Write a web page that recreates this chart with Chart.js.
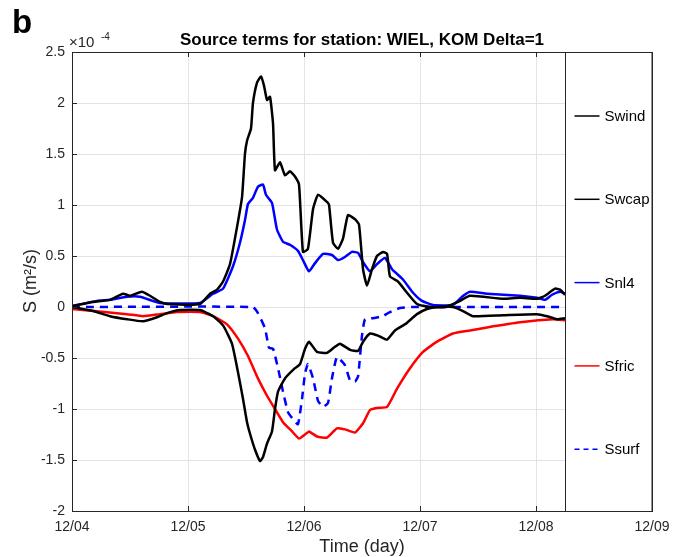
<!DOCTYPE html>
<html>
<head>
<meta charset="utf-8">
<script src="https://cdn.jsdelivr.net/npm/chart.js@4"></script>
<style>
  body { margin: 0; background: #fff; }
  canvas { display: block; }
</style>
</head>
<body>
<canvas id="c" width="682" height="557"></canvas>
<script>
// tick labels for the time axis (days since 12/04)
const dayLabels = ['12/04', '12/05', '12/06', '12/07', '12/08', '12/09'];
const legendNames = ['Swind', 'Swcap', 'Snl4', 'Sfric', 'Ssurf'];

// values in units of 1e-4 m^2/s, time in days
const swindT = [0, 0.181, 0.328, 0.44, 0.5, 0.603, 0.672, 0.759, 0.819, 1.103, 1.19, 1.25, 1.302, 1.362, 1.422, 1.466, 1.491, 1.509, 1.543, 1.56, 1.595, 1.629, 1.655, 1.681, 1.707, 1.733, 1.75, 1.793, 1.836, 1.879, 1.922, 1.957, 1.991, 2.034, 2.078, 2.121, 2.198, 2.216, 2.25, 2.293, 2.336, 2.379, 2.44, 2.474, 2.509, 2.543, 2.586, 2.629, 2.681, 2.716, 2.741, 2.81, 2.888, 2.974, 3.086, 3.216, 3.328, 3.431, 3.716, 3.862, 4.009, 4.078, 4.164, 4.207, 4.25];
const swindV = [0.01, 0.05, 0.07, 0.13, 0.11, 0.15, 0.11, 0.05, 0.03, 0.03, 0.13, 0.17, 0.25, 0.42, 0.78, 1.08, 1.5, 1.63, 1.75, 2.0, 2.2, 2.26, 2.17, 2.03, 2.06, 1.8, 1.34, 1.42, 1.29, 1.33, 1.28, 1.2, 0.54, 0.57, 0.96, 1.1, 1.03, 1.0, 0.63, 0.57, 0.67, 0.9, 0.86, 0.81, 0.37, 0.21, 0.37, 0.5, 0.54, 0.52, 0.3, 0.25, 0.14, 0.03, 0.0, 0.0, 0.05, 0.11, 0.08, 0.09, 0.08, 0.11, 0.18, 0.17, 0.12];

const swcapT = [0, 0.181, 0.328, 0.474, 0.612, 0.733, 0.819, 0.931, 1.103, 1.216, 1.302, 1.379, 1.431, 1.474, 1.509, 1.534, 1.578, 1.621, 1.647, 1.681, 1.724, 1.75, 1.776, 1.836, 1.922, 1.966, 2.009, 2.043, 2.112, 2.198, 2.267, 2.31, 2.397, 2.466, 2.509, 2.569, 2.638, 2.716, 2.784, 2.871, 2.974, 3.06, 3.147, 3.284, 3.371, 3.457, 3.716, 4.009, 4.095, 4.181, 4.25];
const swcapV = [0, -0.04, -0.09, -0.12, -0.14, -0.1, -0.06, -0.03, -0.03, -0.09, -0.18, -0.36, -0.64, -0.9, -1.13, -1.24, -1.4, -1.51, -1.47, -1.34, -1.22, -1.0, -0.83, -0.7, -0.6, -0.56, -0.41, -0.34, -0.44, -0.45, -0.39, -0.36, -0.42, -0.43, -0.34, -0.26, -0.28, -0.32, -0.23, -0.17, -0.07, -0.02, 0, 0, -0.04, -0.09, -0.08, -0.07, -0.09, -0.12, -0.11];

const snl4T = [0, 0.216, 0.328, 0.474, 0.586, 0.759, 1.103, 1.216, 1.302, 1.388, 1.448, 1.491, 1.517, 1.56, 1.603, 1.647, 1.672, 1.724, 1.767, 1.819, 1.879, 1.948, 1.991, 2.043, 2.095, 2.164, 2.241, 2.293, 2.353, 2.414, 2.466, 2.509, 2.569, 2.629, 2.698, 2.759, 2.853, 2.94, 3.017, 3.112, 3.284, 3.362, 3.431, 3.578, 3.862, 4.009, 4.078, 4.138, 4.207, 4.25];
const snl4V = [0.01, 0.06, 0.07, 0.1, 0.1, 0.04, 0.04, 0.13, 0.18, 0.4, 0.63, 0.85, 1.01, 1.07, 1.18, 1.2, 1.1, 1.02, 0.76, 0.64, 0.61, 0.55, 0.46, 0.35, 0.43, 0.52, 0.51, 0.46, 0.49, 0.54, 0.53, 0.44, 0.35, 0.42, 0.48, 0.37, 0.27, 0.14, 0.06, 0.02, 0.02, 0.1, 0.15, 0.13, 0.11, 0.09, 0.07, 0.12, 0.15, 0.13];

const sfricT = [0, 0.474, 0.612, 0.759, 0.905, 1.103, 1.216, 1.336, 1.431, 1.517, 1.603, 1.681, 1.75, 1.819, 1.897, 1.957, 2.009, 2.043, 2.112, 2.198, 2.284, 2.353, 2.44, 2.509, 2.569, 2.629, 2.716, 2.802, 2.914, 3.026, 3.147, 3.284, 3.431, 3.578, 3.862, 4.147, 4.25];
const sfricV = [-0.02, -0.07, -0.09, -0.07, -0.05, -0.05, -0.09, -0.17, -0.31, -0.48, -0.7, -0.87, -1.0, -1.13, -1.22, -1.29, -1.25, -1.22, -1.27, -1.28, -1.19, -1.2, -1.23, -1.14, -1.01, -0.99, -0.98, -0.8, -0.6, -0.44, -0.34, -0.26, -0.23, -0.2, -0.15, -0.12, -0.13];

const ssurfT = [0, 1.56, 1.603, 1.664, 1.698, 1.733, 1.776, 1.819, 1.862, 1.905, 1.948, 1.983, 2.009, 2.034, 2.078, 2.121, 2.164, 2.207, 2.241, 2.284, 2.353, 2.397, 2.44, 2.466, 2.5, 2.526, 2.595, 2.681, 2.724, 2.828, 2.94, 4.25];
const ssurfV = [0, 0, -0.06, -0.21, -0.4, -0.41, -0.6, -0.83, -1.03, -1.1, -1.15, -0.9, -0.65, -0.56, -0.7, -0.92, -0.98, -0.94, -0.7, -0.49, -0.57, -0.72, -0.73, -0.68, -0.28, -0.12, -0.11, -0.09, -0.06, -0.01, 0, 0];

const FONT = "'Liberation Sans', Arial, Helvetica, sans-serif";
const AXC = '#262626';

function pts(t, v) {
  return t.map((d, i) => ({ x: d, y: v[i] }));
}

function line(label, t, v, color, dash) {
  return {
    label: label,
    data: pts(t, v),
    borderColor: color,
    backgroundColor: color,
    borderWidth: 2.5,
    borderDash: dash || [],
    pointRadius: 0,
    tension: 0.15,
    fill: false
  };
}

// MATLAB style frame, inward ticks, text, boxed legend
const decor = {
  id: 'decor',
  afterDatasetsDraw(chart) {
    const ctx = chart.ctx, a = chart.chartArea;
    const xs = chart.scales.x, ys = chart.scales.y;
    ctx.save();
    // legend box sits over the right end of the axes
    const lx = Math.round(xs.getPixelForValue(4.25)) + 0.5;
    ctx.fillStyle = '#fff';
    ctx.fillRect(lx, a.top, a.right - lx, a.bottom - a.top);
    ctx.strokeStyle = AXC;
    ctx.lineWidth = 1;
    ctx.strokeRect(lx, a.top + 0.5, a.right - lx, a.bottom - a.top);
    chart.data.datasets.forEach((ds, i) => {
      const y = a.top + 64 + i * 83.3;
      ctx.beginPath();
      ctx.strokeStyle = ds.borderColor;
      ctx.lineWidth = 1.5;
      ctx.setLineDash(ds.borderDash.length ? [5, 4] : []);
      ctx.moveTo(lx + 9, y);
      ctx.lineTo(lx + 34, y);
      ctx.stroke();
      ctx.setLineDash([]);
      ctx.fillStyle = '#000';
      ctx.font = '15px ' + FONT;
      ctx.textBaseline = 'middle';
      ctx.textAlign = 'left';
      ctx.fillText(legendNames[i], lx + 39, y + 1);
    });
    // frame
    ctx.strokeStyle = AXC;
    ctx.lineWidth = 1;
    ctx.strokeRect(a.left + 0.5, a.top + 0.5, a.right - a.left, a.bottom - a.top);
    // inward ticks
    ctx.beginPath();
    xs.ticks.forEach(t => {
      const x = Math.round(xs.getPixelForValue(t.value)) + 0.5;
      if (x > lx) return;
      ctx.moveTo(x, a.bottom); ctx.lineTo(x, a.bottom - 5);
      ctx.moveTo(x, a.top); ctx.lineTo(x, a.top + 5);
    });
    ys.ticks.forEach(t => {
      const y = Math.round(ys.getPixelForValue(t.value)) + 0.5;
      ctx.moveTo(a.left, y); ctx.lineTo(a.left + 5, y);
    });
    ctx.stroke();
    // texts
    ctx.fillStyle = '#000';
    ctx.textBaseline = 'alphabetic';
    ctx.font = 'bold 33px ' + FONT;
    ctx.textAlign = 'left';
    ctx.fillText('b', 12, 33);
    ctx.font = 'bold 17px ' + FONT;
    ctx.textAlign = 'center';
    ctx.fillText('Source terms for station: WIEL, KOM Delta=1', (a.left + a.right) / 2, 45);
    ctx.fillStyle = AXC;
    ctx.font = '15px ' + FONT;
    ctx.textAlign = 'left';
    ctx.fillText('\u00d710', 69, 47);
    ctx.font = '10px ' + FONT;
    ctx.fillText('-4', 101, 40);
    ctx.font = '18px ' + FONT;
    ctx.textAlign = 'center';
    ctx.fillText('Time (day)', (a.left + a.right) / 2, 552);
    ctx.translate(36, 281);
    ctx.rotate(-Math.PI / 2);
    ctx.fillText('S (m\u00b2/s)', 0, 0);
    ctx.restore();
  }
};

new Chart(document.getElementById('c').getContext('2d'), {
  type: 'line',
  data: {
    datasets: [
      line('Swind', swindT, swindV, '#000000'),
      line('Swcap', swcapT, swcapV, '#000000'),
      line('Snl4', snl4T, snl4V, '#0000ff'),
      line('Sfric', sfricT, sfricV, '#ff0000'),
      line('Ssurf', ssurfT, ssurfV, '#0000ff', [8, 6])
    ]
  },
  options: {
    responsive: false,
    animation: false,
    devicePixelRatio: 1,
    layout: { padding: { left: 0, top: 52, right: 30, bottom: 0 } },
    plugins: { legend: { display: false }, title: { display: false }, tooltip: { enabled: false } },
    scales: {
      x: {
        type: 'linear',
        min: 0,
        max: 5,
        afterFit: s => { s.height = 46; },
        grid: { color: '#e3e3e3', drawTicks: false },
        border: { color: AXC },
        ticks: {
          stepSize: 1,
          padding: 8,
          color: AXC,
          font: { family: FONT, size: 14 },
          maxRotation: 0,
          callback: v => dayLabels[v]
        }
      },
      y: {
        min: -2,
        max: 2.5,
        afterFit: s => { s.width = 72; },
        grid: { color: '#e3e3e3', drawTicks: false },
        border: { color: AXC },
        ticks: {
          stepSize: 0.5,
          padding: 7,
          color: AXC,
          font: { family: FONT, size: 14 },
          callback: v => String(v)
        }
      }
    }
  },
  plugins: [decor]
});
</script>
</body>
</html>
